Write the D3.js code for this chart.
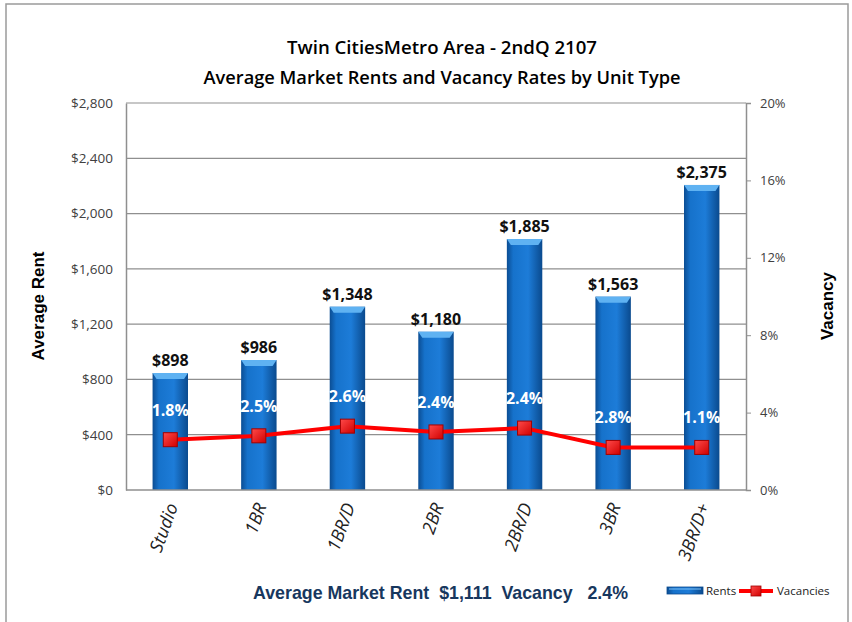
<!DOCTYPE html>
<html>
<head>
<meta charset="utf-8">
<script src="https://cdn.jsdelivr.net/npm/d3@7"></script>
<style>
  html, body { margin: 0; padding: 0; background: #fff; }
  svg { display: block; }
</style>
</head>
<body>
<svg id="chart" width="852" height="622"></svg>
<script>
// unit types and values
const categories = ['Studio', '1BR', '1BR/D', '2BR', '2BR/D', '3BR', '3BR/D+']
const rentBars = [846, 940, 1326, 1145, 1816, 1399, 2207]
const rentLabels = ['$898', '$986', '$1,348', '$1,180', '$1,885', '$1,563', '$2,375']
const vacancyPoints = [0.026, 0.028, 0.033, 0.030, 0.032, 0.022, 0.022]
const vacancyLabels = ['1.8%', '2.5%', '2.6%', '2.4%', '2.4%', '2.8%', '1.1%']
const rentTicks = [0, 400, 800, 1200, 1600, 2000, 2400, 2800]
const vacancyTicks = [0, 0.04, 0.08, 0.12, 0.16, 0.20]

const svg = d3.select('#chart')
const plot = { left: 126, right: 746, top: 103, bottom: 490 }
const font = '"Open Sans", "Noto Sans", sans-serif'
const narrow = '"Liberation Sans Narrow", "Arial Narrow", "Liberation Sans", sans-serif'

const x = d3.scaleBand()
	.domain(categories)
	.range([plot.left, plot.right])
	.paddingInner(0.6)
	.paddingOuter(0.3)
const y = d3.scaleLinear().domain([0, 2800]).range([plot.bottom, plot.top])
const y2 = d3.scaleLinear().domain([0, 0.2]).range([plot.bottom, plot.top])

// gradients
const defs = svg.append('defs')
const barGrad = defs.append('linearGradient').attr('id', 'barGrad')
	.attr('x1', 0).attr('x2', 1).attr('y1', 0).attr('y2', 0)
barGrad.append('stop').attr('offset', '0%').attr('stop-color', '#0b4d93')
barGrad.append('stop').attr('offset', '18%').attr('stop-color', '#1672cb')
barGrad.append('stop').attr('offset', '60%').attr('stop-color', '#1d7cd8')
barGrad.append('stop').attr('offset', '100%').attr('stop-color', '#0a4a8e')
const markGrad = defs.append('linearGradient').attr('id', 'markGrad')
	.attr('x1', 0).attr('x2', 1).attr('y1', 0).attr('y2', 1)
markGrad.append('stop').attr('offset', '0%').attr('stop-color', '#ff4a4a')
markGrad.append('stop').attr('offset', '100%').attr('stop-color', '#d00000')

// outer frame
svg.append('rect')
	.attr('x', 6).attr('y', 4).attr('width', 842).attr('height', 640)
	.attr('fill', '#fff').attr('stroke', '#9a9a9a').attr('stroke-width', 1.5)

// titles
svg.append('text')
	.attr('x', 442).attr('y', 54)
	.attr('text-anchor', 'middle')
	.attr('textLength', 310).attr('lengthAdjust', 'spacingAndGlyphs')
	.style('font-family', font).style('font-size', '18px').style('font-weight', 600)
	.text('Twin CitiesMetro Area - 2ndQ 2107')
svg.append('text')
	.attr('x', 442).attr('y', 84)
	.attr('text-anchor', 'middle')
	.attr('textLength', 477).attr('lengthAdjust', 'spacingAndGlyphs')
	.style('font-family', font).style('font-size', '18px').style('font-weight', 600)
	.text('Average Market Rents and Vacancy Rates by Unit Type')

// gridlines
svg.append('g')
	.selectAll('line')
	.data(rentTicks.slice(1))
	.join('line')
	.attr('x1', plot.left).attr('x2', plot.right)
	.attr('y1', d => y(d)).attr('y2', d => y(d))
	.attr('stroke', '#8f8f8f').attr('stroke-width', 1.2)

// left axis
const leftAxis = svg.append('g')
	.attr('transform', `translate(${plot.left},0)`)
	.call(d3.axisLeft(y).tickValues(rentTicks).tickSize(0).tickPadding(13)
		.tickFormat(d => '$' + d3.format(',')(d)))
leftAxis.select('.domain').attr('stroke', '#8f8f8f').attr('stroke-width', 1.5)
leftAxis.selectAll('text')
	.style('font-family', font).style('font-size', '13.5px').attr('fill', '#404040')

// right axis
const rightAxis = svg.append('g')
	.attr('transform', `translate(${plot.right},0)`)
	.call(d3.axisRight(y2).tickValues(vacancyTicks).tickSize(5).tickPadding(9)
		.tickFormat(d3.format('.0%')))
rightAxis.select('.domain').attr('stroke', '#8f8f8f').attr('stroke-width', 1.5)
rightAxis.selectAll('line').attr('stroke', '#8f8f8f')
rightAxis.selectAll('text')
	.style('font-family', font).style('font-size', '13px').attr('fill', '#404040')

// bars
const bars = svg.append('g')
	.selectAll('g')
	.data(categories.map((c, i) => ({ cat: c, rent: rentBars[i], label: rentLabels[i] })))
	.join('g')
bars.append('rect')
	.attr('x', d => x(d.cat)).attr('width', x.bandwidth())
	.attr('y', d => y(d.rent)).attr('height', d => y(0) - y(d.rent))
	.attr('fill', 'url(#barGrad)')
bars.append('path')
	.attr('d', d => {
		const x0 = x(d.cat), x1 = x0 + x.bandwidth(), t = y(d.rent)
		return `M ${x0} ${t} L ${x1} ${t} L ${x1 - 4} ${t + 6} L ${x0 + 4} ${t + 6} Z`
	})
	.attr('fill', '#5fb2f2')
bars.append('text')
	.attr('x', d => x(d.cat) + x.bandwidth() / 2)
	.attr('y', d => y(d.rent) - 7)
	.attr('text-anchor', 'middle')
	.style('font-family', font).style('font-size', '16px').style('font-weight', 700)
	.attr('fill', '#111')
	.text(d => d.label)

// bottom axis line
svg.append('line')
	.attr('x1', plot.left).attr('x2', plot.right)
	.attr('y1', plot.bottom).attr('y2', plot.bottom)
	.attr('stroke', '#8f8f8f').attr('stroke-width', 1.5)

// category labels
svg.append('g')
	.selectAll('text')
	.data(categories)
	.join('text')
	.attr('transform', d => `translate(${x(d) + x.bandwidth() / 2 + 8},${plot.bottom + 16}) rotate(-70)`)
	.attr('text-anchor', 'end')
	.style('font-family', font).style('font-size', '18px').style('font-style', 'italic')
	.attr('fill', '#222')
	.text(d => d)

// vacancy line
const vac = categories.map((c, i) => ({ cat: c, v: vacancyPoints[i], label: vacancyLabels[i] }))
const cx = d => x(d.cat) + x.bandwidth() / 2
svg.append('path')
	.datum(vac)
	.attr('fill', 'none').attr('stroke', '#ff0000').attr('stroke-width', 4)
	.attr('stroke-linejoin', 'round')
	.attr('d', d3.line().x(cx).y(d => y2(d.v)))
svg.append('g')
	.selectAll('rect')
	.data(vac)
	.join('rect')
	.attr('x', d => cx(d) - 7).attr('y', d => y2(d.v) - 7)
	.attr('width', 14).attr('height', 14)
	.attr('fill', 'url(#markGrad)').attr('stroke', '#a00000').attr('stroke-width', 1)
svg.append('g')
	.selectAll('text')
	.data(vac)
	.join('text')
	.attr('x', cx).attr('y', d => y2(d.v) - 24)
	.attr('text-anchor', 'middle')
	.style('font-family', font).style('font-size', '16px').style('font-weight', 700)
	.attr('fill', '#fff')
	.text(d => d.label)

// axis titles
svg.append('text')
	.attr('transform', 'translate(44,306) rotate(-90)')
	.attr('text-anchor', 'middle')
	.style('font-family', '"Liberation Sans", Arial, sans-serif').style('font-size', '17px').style('font-weight', 700)
	.text('Average Rent')
svg.append('text')
	.attr('transform', 'translate(833,306) rotate(-90)')
	.attr('text-anchor', 'middle')
	.style('font-family', '"Liberation Sans", Arial, sans-serif').style('font-size', '17px').style('font-weight', 700)
	.text('Vacancy')

// footer summary
svg.append('text')
	.attr('x', 253).attr('y', 599)
	.attr('textLength', 375).attr('lengthAdjust', 'spacingAndGlyphs')
	.style('white-space', 'pre')
	.style('font-family', narrow).style('font-size', '19px').style('font-weight', 700)
	.attr('fill', '#17375e')
	.text('Average Market Rent  $1,111  Vacancy   2.4%')

// legend
const legend = svg.append('g')
legend.append('rect')
	.attr('x', 667).attr('y', 587).attr('width', 36).attr('height', 7)
	.attr('fill', 'url(#barGrad)').attr('stroke', '#0a4a8e').attr('stroke-width', 0.8)
legend.append('line')
	.attr('x1', 669).attr('x2', 701).attr('y1', 589).attr('y2', 589)
	.attr('stroke', '#7cc0f5').attr('stroke-width', 1)
legend.append('text')
	.attr('x', 706).attr('y', 595)
	.style('font-family', font).style('font-size', '11.5px').attr('fill', '#222')
	.text('Rents')
legend.append('line')
	.attr('x1', 739).attr('x2', 773).attr('y1', 591).attr('y2', 591)
	.attr('stroke', '#ff0000').attr('stroke-width', 4)
legend.append('rect')
	.attr('x', 751).attr('y', 586).attr('width', 10).attr('height', 10)
	.attr('fill', 'url(#markGrad)').attr('stroke', '#a00000').attr('stroke-width', 0.8)
legend.append('text')
	.attr('x', 777).attr('y', 595)
	.style('font-family', font).style('font-size', '11.5px').attr('fill', '#222')
	.text('Vacancies')
</script>
</body>
</html>
